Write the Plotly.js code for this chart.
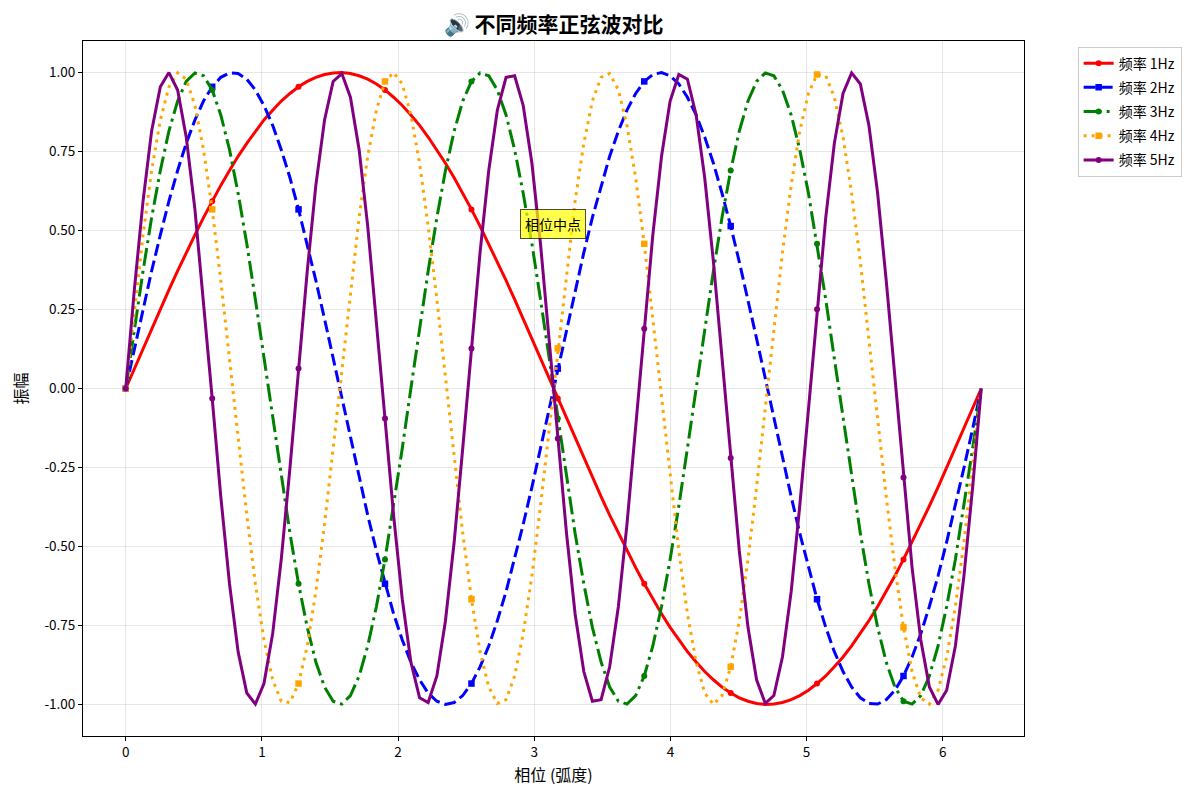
<!DOCTYPE html>
<html>
<head>
<meta charset="utf-8">
<script src="https://cdn.plot.ly/plotly-3.0.1.min.js"></script>
<style>html,body{margin:0;padding:0;background:#fff;}#chart{width:1200px;height:800px;}</style>
</head>
<body>
<div id="chart"></div>
<script>
// phase (radians), 100 samples from 0 to 2π
const phase = [
0.000,0.063,0.127,0.190,0.254,0.317,0.381,0.444,0.508,0.571,
0.635,0.698,0.762,0.825,0.889,0.952,1.015,1.079,1.142,1.206,
1.269,1.333,1.396,1.460,1.523,1.587,1.650,1.714,1.777,1.841,
1.904,1.967,2.031,2.094,2.158,2.221,2.285,2.348,2.412,2.475,
2.539,2.602,2.666,2.729,2.793,2.856,2.919,2.983,3.046,3.110,
3.173,3.237,3.300,3.364,3.427,3.491,3.554,3.618,3.681,3.745,
3.808,3.871,3.935,3.998,4.062,4.125,4.189,4.252,4.316,4.379,
4.443,4.506,4.570,4.633,4.697,4.760,4.823,4.887,4.950,5.014,
5.077,5.141,5.204,5.268,5.331,5.395,5.458,5.522,5.585,5.649,
5.712,5.775,5.839,5.902,5.966,6.029,6.093,6.156,6.220,6.283];

const wave1Hz = [
0,0.063,0.127,0.189,0.251,0.312,0.372,0.430,0.486,0.541,
0.593,0.643,0.690,0.735,0.776,0.815,0.850,0.881,0.910,0.934,
0.955,0.972,0.985,0.994,0.999,1.000,0.997,0.990,0.979,0.964,
0.945,0.922,0.896,0.866,0.833,0.796,0.756,0.713,0.667,0.618,
0.567,0.514,0.458,0.401,0.342,0.282,0.220,0.158,0.095,0.032,
-0.032,-0.095,-0.158,-0.220,-0.282,-0.342,-0.401,-0.458,-0.514,-0.567,
-0.618,-0.667,-0.713,-0.756,-0.796,-0.833,-0.866,-0.896,-0.922,-0.945,
-0.964,-0.979,-0.990,-0.997,-1.000,-0.999,-0.994,-0.985,-0.972,-0.955,
-0.934,-0.910,-0.881,-0.850,-0.815,-0.776,-0.735,-0.690,-0.643,-0.593,
-0.541,-0.486,-0.430,-0.372,-0.312,-0.251,-0.189,-0.127,-0.063,0];

const wave2Hz = [
0,0.127,0.251,0.372,0.486,0.593,0.690,0.776,0.850,0.910,
0.955,0.985,0.999,0.997,0.979,0.945,0.896,0.833,0.756,0.667,
0.567,0.458,0.342,0.220,0.095,-0.032,-0.158,-0.282,-0.401,-0.514,
-0.618,-0.713,-0.796,-0.866,-0.922,-0.964,-0.990,-1.000,-0.994,-0.972,
-0.934,-0.881,-0.815,-0.735,-0.643,-0.541,-0.430,-0.312,-0.189,-0.063,
0.063,0.189,0.312,0.430,0.541,0.643,0.735,0.815,0.881,0.934,
0.972,0.994,1.000,0.990,0.964,0.922,0.866,0.796,0.713,0.618,
0.514,0.401,0.282,0.158,0.032,-0.095,-0.220,-0.342,-0.458,-0.567,
-0.667,-0.756,-0.833,-0.896,-0.945,-0.979,-0.997,-0.999,-0.985,-0.955,
-0.910,-0.850,-0.776,-0.690,-0.593,-0.486,-0.372,-0.251,-0.127,0];

const wave3Hz = [
0,0.189,0.372,0.541,0.690,0.815,0.910,0.972,0.999,0.990,
0.945,0.866,0.756,0.618,0.458,0.282,0.095,-0.095,-0.282,-0.458,
-0.618,-0.756,-0.866,-0.945,-0.990,-0.999,-0.972,-0.910,-0.815,-0.690,
-0.541,-0.372,-0.189,
0,0.189,0.372,0.541,0.690,0.815,0.910,0.972,0.999,0.990,
0.945,0.866,0.756,0.618,0.458,0.282,0.095,-0.095,-0.282,-0.458,
-0.618,-0.756,-0.866,-0.945,-0.990,-0.999,-0.972,-0.910,-0.815,-0.690,
-0.541,-0.372,-0.189,
0,0.189,0.372,0.541,0.690,0.815,0.910,0.972,0.999,0.990,
0.945,0.866,0.756,0.618,0.458,0.282,0.095,-0.095,-0.282,-0.458,
-0.618,-0.756,-0.866,-0.945,-0.990,-0.999,-0.972,-0.910,-0.815,-0.690,
-0.541,-0.372,-0.189,
0];

const wave4Hz = [
0,0.251,0.486,0.690,0.850,0.955,0.999,0.979,0.896,0.756,
0.567,0.342,0.095,-0.158,-0.401,-0.618,-0.796,-0.922,-0.990,-0.994,
-0.934,-0.815,-0.643,-0.430,-0.189,
0.063,0.312,0.541,0.735,0.881,0.972,1.000,0.964,0.866,0.713,
0.514,0.282,0.032,-0.220,-0.458,-0.667,-0.833,-0.945,-0.997,-0.985,
-0.910,-0.776,-0.593,-0.372,-0.127,
0.127,0.372,0.593,0.776,0.910,0.985,0.997,0.945,0.833,0.667,
0.458,0.220,-0.032,-0.282,-0.514,-0.713,-0.866,-0.964,-1.000,-0.972,
-0.881,-0.735,-0.541,-0.312,-0.063,
0.189,0.430,0.643,0.815,0.934,0.994,0.990,0.922,0.796,0.618,
0.401,0.158,-0.095,-0.342,-0.567,-0.756,-0.896,-0.979,-0.999,-0.955,
-0.850,-0.690,-0.486,-0.251,
0];

const wave5Hz = [
0,0.312,0.593,0.815,0.955,1.000,0.945,0.796,0.567,0.282,
-0.032,-0.342,-0.618,-0.833,-0.964,-0.999,-0.934,-0.776,-0.541,-0.251,
0.063,0.372,0.643,0.850,0.972,0.997,0.922,0.756,0.514,0.220,
-0.095,-0.401,-0.667,-0.866,-0.979,-0.994,-0.910,-0.735,-0.486,-0.189,
0.127,0.430,0.690,0.881,0.985,0.990,0.896,0.713,0.458,0.158,
-0.158,-0.458,-0.713,-0.896,-0.990,-0.985,-0.881,-0.690,-0.430,-0.127,
0.189,0.486,0.735,0.910,0.994,0.979,0.866,0.667,0.401,0.095,
-0.220,-0.514,-0.756,-0.922,-0.997,-0.972,-0.850,-0.643,-0.372,-0.063,
0.251,0.541,0.776,0.934,0.999,0.964,0.833,0.618,0.342,0.032,
-0.282,-0.567,-0.796,-0.945,-1.000,-0.955,-0.815,-0.593,-0.312,
0];

const seriesNames = ['频率 1Hz','频率 2Hz','频率 3Hz','频率 4Hz','频率 5Hz'];
const seriesValues = [wave1Hz, wave2Hz, wave3Hz, wave4Hz, wave5Hz];
const xTickVals = [0,1,2,3,4,5,6];
const yTickVals = [-1.00,-0.75,-0.50,-0.25,0.00,0.25,0.50,0.75,1.00];
const annotationText = '相位中点';
const annotationX = 3.14;
const annotationY = 0.52;

const colors = ['#ff0000','#0000ff','#008000','#ffa500','#800080'];
const dashes = ['solid','12px,5px','18px,5px,3px,5px','3px,5px','solid'];
const symbols = ['circle','square','circle','square','circle'];
const msizes = [6,6.5,6,6.5,6];
const markEvery = 10;

const FONT = '"Noto Sans CJK SC", "Noto Sans", sans-serif';

const traces = seriesValues.map((ys, k) => {
  const sel = [];
  ys.forEach((v, i) => { if (i % markEvery === 0 && i < ys.length - 1) sel.push(i); });
  return {
    type: 'scatter',
    mode: 'lines+markers',
    name: seriesNames[k],
    legendgroup: 'g' + k,
    x: phase,
    y: ys,
    line: {color: colors[k], width: 3, dash: dashes[k]},
    marker: {color: colors[k], symbol: symbols[k], size: msizes[k], line: {width: 0}},
    selectedpoints: sel,
    selected: {marker: {opacity: 1}},
    unselected: {marker: {opacity: 0}},
    hoverinfo: 'x+y+name'
  };
});

const layout = {
  width: 1200,
  height: 800,
  paper_bgcolor: '#ffffff',
  plot_bgcolor: '#ffffff',
  font: {family: FONT, size: 14, color: '#000'},
  margin: {l: 83, r: 176, t: 41, b: 64, pad: 0},
  title: {
    text: '<b>🔊 不同频率正弦波对比</b>',
    font: {family: FONT, size: 21, color: '#000'},
    xref: 'paper', x: 0.5, xanchor: 'center', y: 0.969, yanchor: 'middle'
  },
  showlegend: true,
  legend: {
    x: 1.057, xanchor: 'left', y: 0.992, yanchor: 'top',
    bgcolor: '#ffffff', bordercolor: '#cccccc', borderwidth: 1,
    font: {family: FONT, size: 14, color: '#000'},
    tracegroupgap: 3
  },
  xaxis: {
    range: [-0.314, 6.597],
    tickvals: xTickVals,
    ticktext: xTickVals.map(v => String(v)),
    showgrid: true, gridcolor: 'rgba(176,176,176,0.3)', gridwidth: 1,
    zeroline: false,
    showline: true, linecolor: '#000', linewidth: 1, mirror: true,
    ticks: 'outside', ticklen: 4, tickcolor: '#000', tickwidth: 1,
    tickfont: {family: FONT, size: 13.5, color: '#000'},
    title: {text: '相位 (弧度)', font: {family: FONT, size: 16, color: '#000'}, standoff: 9}
  },
  yaxis: {
    range: [-1.1, 1.1],
    tickvals: yTickVals,
    ticktext: yTickVals.map(v => v.toFixed(2)),
    showgrid: true, gridcolor: 'rgba(176,176,176,0.3)', gridwidth: 1,
    zeroline: false,
    showline: true, linecolor: '#000', linewidth: 1, mirror: true,
    ticks: 'outside', ticklen: 4, tickcolor: '#000', tickwidth: 1,
    tickfont: {family: FONT, size: 13.5, color: '#000'},
    title: {text: '振幅', font: {family: FONT, size: 16, color: '#000'}, standoff: 12}
  },
  annotations: [{
    x: annotationX, y: annotationY, xref: 'x', yref: 'y',
    text: annotationText, showarrow: false,
    font: {family: FONT, size: 14, color: '#000'},
    bgcolor: 'rgba(255,255,0,0.7)', bordercolor: 'rgba(0,0,0,0.7)', borderwidth: 1, borderpad: 4,
    xanchor: 'center', yanchor: 'middle'
  }]
};

Plotly.newPlot('chart', traces, layout, {displayModeBar: false, staticPlot: true});
</script>
</body>
</html>
